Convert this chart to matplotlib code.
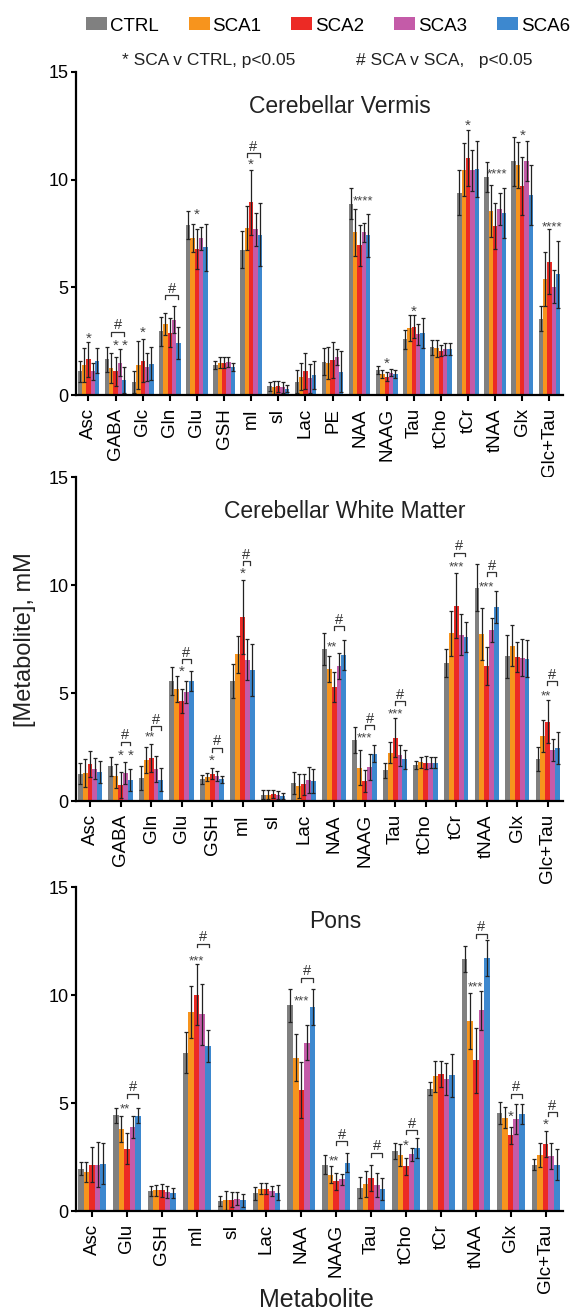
import matplotlib
matplotlib.use('Agg')
import numpy as np
import matplotlib.pyplot as plt
from matplotlib.patches import Patch

plt.rcParams['font.family'] = ['Liberation Sans', 'DejaVu Sans']

groups = ['CTRL', 'SCA1', 'SCA2', 'SCA3', 'SCA6']
colors = ['#808080', '#F7941D', '#EC2A25', '#C45BA8', '#3D88CF']

# ---- Cerebellar Vermis ----
vermis_labels = ['Asc', 'GABA', 'Glc', 'Gln', 'Glu', 'GSH', 'mI', 'sI', 'Lac', 'PE',
                 'NAA', 'NAAG', 'Tau', 'tCho', 'tCr', 'tNAA', 'Glx', 'Glc+Tau']
vermis_mean = [
    [1.1, 1.65, 0.6, 2.95, 7.9, 1.4, 6.75, 0.4, 0.62, 1.55, 8.89, 1.16, 2.58, 2.21, 9.39, 10.13, 10.85, 3.54],
    [1.4, 1.25, 1.4, 3.3, 7.3, 1.5, 7.76, 0.35, 0.85, 1.47, 7.55, 0.97, 3.12, 2.16, 10.47, 8.55, 10.67, 5.38],
    [1.65, 1.1, 1.6, 2.9, 6.77, 1.5, 8.94, 0.4, 1.13, 1.62, 6.95, 0.85, 3.17, 2.06, 11.0, 7.84, 9.71, 6.19],
    [1.1, 1.5, 1.3, 3.5, 7.28, 1.53, 7.7, 0.35, 0.77, 1.75, 7.56, 1.04, 2.83, 2.15, 10.43, 8.65, 10.85, 5.03],
    [1.6, 0.7, 1.45, 2.4, 6.85, 1.3, 7.45, 0.3, 0.93, 1.08, 7.41, 0.97, 2.89, 2.15, 10.48, 8.43, 9.3, 5.61],
]
vermis_err = [
    [0.5, 0.56, 0.53, 0.68, 0.65, 0.2, 0.86, 0.2, 0.54, 0.61, 0.73, 0.2, 0.44, 0.34, 1.05, 0.7, 1.13, 0.59],
    [0.8, 0.7, 1.1, 0.52, 0.66, 0.25, 1.02, 0.3, 0.62, 0.74, 1.1, 0.18, 0.59, 0.39, 1.24, 1.22, 1.08, 1.24],
    [0.8, 0.68, 1.0, 0.66, 0.93, 0.25, 1.5, 0.25, 0.83, 0.85, 0.94, 0.2, 0.54, 0.26, 1.29, 1.08, 1.35, 1.5],
    [0.4, 0.62, 0.66, 0.63, 0.53, 0.25, 0.76, 0.25, 0.67, 0.37, 0.44, 0.15, 0.49, 0.28, 0.97, 0.74, 0.93, 0.77],
    [0.6, 0.6, 0.76, 0.74, 1.08, 0.2, 1.47, 0.15, 0.65, 0.96, 0.99, 0.18, 0.7, 0.28, 1.3, 1.16, 1.4, 1.55],
]
# (metabolite, bar slot 0-4, height, text)
vermis_stars = [('Asc', 2, 2.83, '*'), ('GABA', 2, 2.47, '*'), ('GABA', 4, 2.47, '*'),
                ('Glc', 2, 3.09, '*'), ('Glu', 2, 8.55, '*'), ('mI', 2, 10.9, '*'),
                ('NAA', 2.85, 9.2, '****'), ('NAAG', 2, 1.67, '*'), ('Tau', 2, 4.07, '*'),
                ('tCr', 2, 12.71, '*'), ('tNAA', 2.5, 10.44, '****'), ('Glx', 2, 12.26, '*'),
                ('Glc+Tau', 2.7, 8.0, '****')]
# (metabolite, from slot, to slot, height)
vermis_hash = [('GABA', 1, 4, 2.94), ('Gln', 1, 4, 4.64), ('mI', 1, 4, 11.24)]

# ---- Cerebellar White Matter ----
wm_labels = ['Asc', 'GABA', 'Gln', 'Glu', 'GSH', 'mI', 'sI', 'Lac', 'NAA', 'NAAG',
             'Tau', 'tCho', 'tCr', 'tNAA', 'Glx', 'Glc+Tau']
wm_mean = [
    [1.27, 1.6, 1.08, 5.56, 1.0, 5.56, 0.3, 0.83, 7.05, 2.81, 1.42, 1.65, 6.39, 9.88, 6.7, 1.96],
    [1.31, 1.14, 1.91, 5.2, 1.11, 6.79, 0.3, 0.68, 6.13, 1.54, 2.24, 1.8, 7.76, 7.75, 7.18, 3.01],
    [1.73, 0.76, 1.99, 4.63, 1.27, 8.52, 0.33, 0.77, 5.28, 0.93, 2.93, 1.77, 9.04, 6.25, 6.67, 3.67],
    [1.5, 1.31, 1.5, 5.05, 1.16, 6.54, 0.28, 0.96, 6.25, 1.57, 2.11, 1.77, 7.7, 7.9, 6.64, 2.36],
    [1.34, 0.96, 0.99, 5.56, 1.0, 6.08, 0.22, 0.91, 6.77, 2.19, 1.93, 1.77, 7.59, 8.98, 6.59, 2.45],
]
wm_err = [
    [0.5, 0.45, 0.55, 0.65, 0.2, 0.8, 0.2, 0.5, 0.75, 0.6, 0.35, 0.18, 0.65, 1.1, 1.0, 0.55],
    [0.65, 0.55, 0.6, 0.6, 0.2, 0.85, 0.2, 0.55, 0.6, 0.8, 0.5, 0.25, 1.05, 1.2, 0.95, 0.75],
    [0.6, 0.6, 0.65, 0.55, 0.25, 1.7, 0.2, 0.5, 0.7, 0.5, 0.9, 0.3, 1.5, 0.9, 0.7, 1.0],
    [0.5, 0.5, 0.6, 0.5, 0.22, 0.95, 0.2, 0.6, 0.6, 0.6, 0.5, 0.25, 0.95, 0.55, 0.85, 0.5],
    [0.5, 0.5, 0.55, 0.45, 0.18, 1.2, 0.15, 0.55, 0.7, 0.4, 0.45, 0.25, 0.7, 0.75, 0.85, 0.75],
]
wm_stars = [('GABA', 2, 2.31, '*'), ('GABA', 4, 2.31, '*'), ('Gln', 1.8, 3.12, '**'),
            ('Glu', 2, 6.17, '*'), ('GSH', 2, 2.04, '*'), ('mI', 2, 10.71, '*'),
            ('NAA', 1.5, 7.31, '**'), ('NAAG', 2, 3.09, '***'), ('Tau', 2, 4.23, '***'),
            ('tCr', 2, 10.99, '***'), ('tNAA', 2, 10.1, '***'), ('Glc+Tau', 1.7, 5.05, '**')]
wm_hash = [('GABA', 2, 4, 2.75), ('Gln', 2, 4, 3.47), ('Glu', 2, 4, 6.56), ('GSH', 2, 4, 2.47),
           ('mI', 2, 3.5, 11.1), ('NAA', 2, 4, 8.1), ('NAAG', 2, 4, 3.5), ('Tau', 2, 4, 4.63),
           ('tCr', 1.5, 3.8, 11.5), ('tNAA', 2, 4, 10.6), ('Glc+Tau', 1.8, 3.9, 5.55)]

# ---- Pons ----
pons_labels = ['Asc', 'Glu', 'GSH', 'mI', 'sI', 'Lac', 'NAA', 'NAAG', 'Tau', 'tCho',
               'tCr', 'tNAA', 'Glx', 'Glc+Tau']
pons_mean = [
    [1.96, 4.43, 0.93, 7.33, 0.46, 0.83, 9.52, 2.15, 1.08, 2.78, 5.66, 11.68, 4.55, 2.15],
    [1.8, 3.81, 0.96, 9.21, 0.49, 1.03, 7.1, 1.68, 1.23, 2.58, 6.23, 8.78, 4.32, 2.61],
    [2.14, 2.89, 0.96, 10.02, 0.52, 1.03, 5.62, 1.37, 1.53, 2.07, 6.33, 6.98, 3.5, 3.12],
    [2.14, 3.89, 0.88, 9.1, 0.57, 0.93, 7.79, 1.47, 1.19, 2.62, 6.1, 9.29, 4.27, 2.55],
    [2.19, 4.41, 0.83, 7.64, 0.49, 0.85, 9.44, 2.24, 1.03, 2.92, 6.28, 11.71, 4.5, 2.15],
]
pons_err = [
    [0.3, 0.35, 0.25, 0.95, 0.25, 0.3, 0.75, 0.45, 0.5, 0.35, 0.3, 0.6, 0.5, 0.25],
    [0.45, 0.6, 0.25, 1.2, 0.45, 0.25, 1.1, 0.4, 0.6, 0.5, 0.7, 1.3, 0.5, 0.55],
    [0.8, 0.7, 0.3, 1.4, 0.35, 0.25, 1.3, 0.4, 0.6, 0.4, 0.6, 1.5, 0.4, 0.6],
    [1.05, 0.5, 0.3, 1.4, 0.3, 0.25, 0.8, 0.25, 0.55, 0.3, 0.75, 0.9, 0.7, 0.6],
    [0.95, 0.35, 0.25, 0.75, 0.3, 0.35, 0.85, 0.45, 0.5, 0.45, 1.0, 0.85, 0.45, 0.7],
]
pons_stars = [('Glu', 1.6, 4.9, '**'), ('mI', 2, 11.76, '***'), ('NAA', 2, 9.88, '***'),
              ('NAAG', 1.6, 2.5, '**'), ('tCho', 2, 3.22, '*'), ('tNAA', 2, 10.57, '***'),
              ('Glx', 2, 4.55, '*'), ('Glc+Tau', 2, 4.17, '*')]
pons_hash = [('Glu', 2, 4, 5.43), ('mI', 2, 4.2, 12.38), ('NAA', 2, 4, 10.8), ('NAAG', 2, 4, 3.22),
             ('Tau', 2, 4, 2.69), ('tCho', 2, 4, 3.73), ('tNAA', 2, 4, 12.84), ('Glx', 2, 4, 5.43),
             ('Glc+Tau', 2.4, 4, 4.58)]

W = 0.16


def draw_panel(ax, labels, means, errs, stars, hashes, title, title_x):
    idx = np.arange(len(labels))
    for b in range(5):
        ax.bar(idx + (b - 2) * W, means[b], W, color=colors[b], yerr=errs[b],
               error_kw=dict(ecolor='#222222', elinewidth=0.9, capsize=1.6, capthick=0.9))
    for name, slot, y, txt in stars:
        x = labels.index(name) + (slot - 2) * W
        size = 11 if txt == '*' else 9.5
        ax.text(x, y - 0.2, txt, ha='center', va='center', fontsize=size, color='#444444')
    for name, s0, s1, y in hashes:
        i = labels.index(name)
        x0 = i + (s0 - 2) * W
        x1 = i + (s1 - 2) * W
        ax.plot([x0, x0, x1, x1], [y - 0.18, y, y, y - 0.18], color='#333333', lw=0.9)
        ax.text((x0 + x1) / 2, y + 0.3, '#', ha='center', va='center', fontsize=10.5, color='#333333')
    ax.set_xlim(-0.46, len(labels) - 0.5)
    ax.set_ylim(0, 15)
    ax.set_yticks([0, 5, 10, 15])
    ax.set_xticks(idx)
    ax.set_xticklabels(labels, rotation=90)
    for s in ['top', 'right']:
        ax.spines[s].set_visible(False)
    for s in ['left', 'bottom']:
        ax.spines[s].set_linewidth(1.6)
    ax.tick_params(axis='x', length=4.5, width=1.5, labelsize=13.5, pad=5)
    ax.tick_params(axis='y', length=3.5, width=1.5, labelsize=13, pad=2)
    ax.text(title_x, 13.4 / 15, title, transform=ax.transAxes, ha='center', va='center',
            fontsize=16.5, color='#222222')


fig = plt.figure(figsize=(5.86, 13.11), dpi=100)
left = 76 / 586
width = (563 - 76) / 586
H = 1311
ax1 = fig.add_axes([left, 1 - 395 / H, width, 323 / H])
ax2 = fig.add_axes([left, 1 - 801 / H, width, 324 / H])
ax3 = fig.add_axes([left, 1 - 1211 / H, width, 324 / H])

draw_panel(ax1, vermis_labels, vermis_mean, vermis_err, vermis_stars, vermis_hash,
           'Cerebellar Vermis', 0.542)
draw_panel(ax2, wm_labels, wm_mean, wm_err, wm_stars, wm_hash,
           'Cerebellar White Matter', 0.552)
draw_panel(ax3, pons_labels, pons_mean, pons_err, pons_stars, pons_hash,
           'Pons', 0.532)

handles = [Patch(facecolor=c, edgecolor='none') for c in colors]
fig.legend(handles, groups, loc='center left', bbox_to_anchor=(86 / 586, 1 - 26 / H),
           ncol=5, frameon=False, fontsize=13.5, borderpad=0, borderaxespad=0,
           handlelength=1.12, handleheight=0.69, handletextpad=0.15, columnspacing=1.6)

fig.text(122 / 586, 1 - 60 / H, '* SCA v CTRL, p<0.05', fontsize=12.5, va='center', color='#222222')
fig.text(356 / 586, 1 - 60 / H, '# SCA v SCA,   p<0.05', fontsize=12.5, va='center', color='#222222')

fig.text(25 / 586, 1 - 640 / H, '[Metabolite], mM', rotation=90, fontsize=17,
         ha='center', va='center', color='#222222')
fig.text(316 / 586, 1 - 1300 / H, 'Metabolite', fontsize=18, ha='center', va='center',
         color='#222222')

fig.savefig('out.png', dpi=100)
